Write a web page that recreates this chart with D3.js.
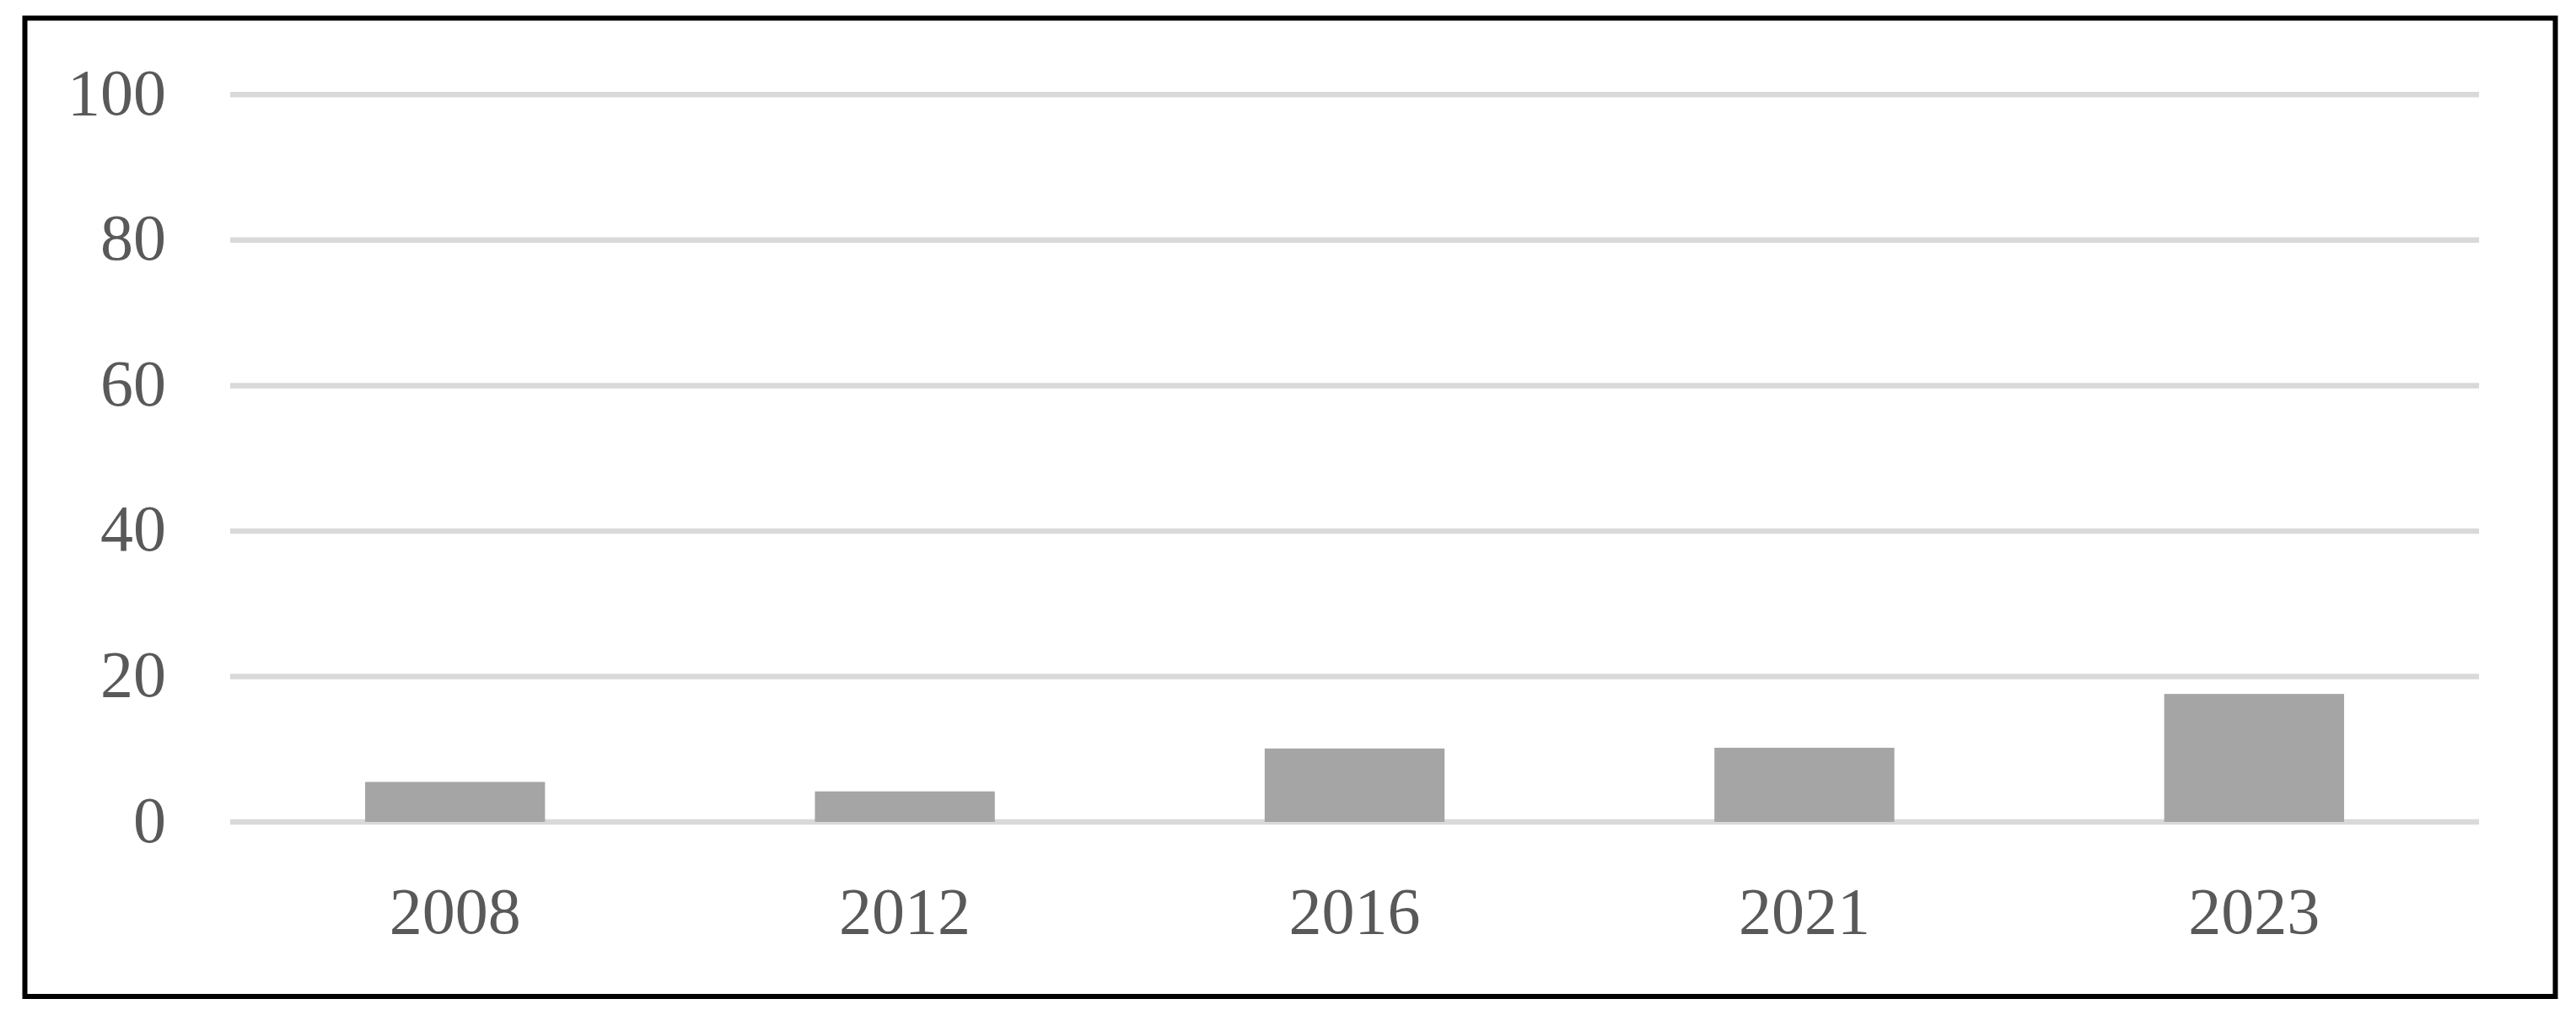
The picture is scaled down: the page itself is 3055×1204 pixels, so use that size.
<!DOCTYPE html>
<html>
<head>
<meta charset="utf-8">
<script src="https://cdn.jsdelivr.net/npm/d3@7/dist/d3.min.js"></script>
<style>
html,body{margin:0;padding:0;background:#fff;}
svg{display:block;}
</style>
</head>
<body>
<svg id="chart" width="3055" height="1204"></svg>
<script>
const categories = ["2008", "2012", "2016", "2021", "2023"];
const values = [5.5, 4.2, 10.1, 10.2, 17.6];
const yTicks = [0, 20, 40, 60, 80, 100];

const svg = d3.select("#chart");
const W = 3055, H = 1204;
const plot = {left: 273, right: 2940, top: 112.3, bottom: 975};

svg.append("rect").attr("width", W).attr("height", H).attr("fill", "#fff");

const x = d3.scaleBand().domain(categories).range([plot.left, plot.right])
  .paddingInner(0.6).paddingOuter(0.3);
const y = d3.scaleLinear().domain([0, 100]).range([plot.bottom, plot.top]);

const font = "'Liberation Serif', 'DejaVu Serif', serif";

// gridlines
svg.append("g").selectAll("line").data(yTicks).join("line")
  .attr("x1", plot.left).attr("x2", plot.right)
  .attr("y1", d => y(d)).attr("y2", d => y(d))
  .attr("stroke", "#d9d9d9").attr("stroke-width", 6.5);

// y axis labels
const yAxis = d3.axisLeft(y).tickValues(yTicks).tickSize(0).tickPadding(0).tickFormat(d3.format("d"));
const gy = svg.append("g").attr("transform", `translate(197,0)`).call(yAxis);
gy.select(".domain").remove();
gy.selectAll("text").attr("font-family", font).attr("font-size", 78)
  .attr("fill", "#595959").attr("dy", null).attr("dominant-baseline", "auto")
  .attr("y", 23).attr("x", 0);

// bars
svg.append("g").selectAll("rect").data(categories).join("rect")
  .attr("x", d => x(d)).attr("width", x.bandwidth())
  .attr("y", (d, i) => y(values[i])).attr("height", (d, i) => y(0) - y(values[i]))
  .attr("fill", "#a5a5a5");

// x axis labels
const xAxis = d3.axisBottom(x).tickSize(0).tickPadding(0);
const gx = svg.append("g").attr("transform", `translate(0,${plot.bottom})`).call(xAxis);
gx.select(".domain").remove();
gx.selectAll("text").attr("font-family", font).attr("font-size", 78)
  .attr("fill", "#595959").attr("dy", null).attr("y", 132);

// border
svg.append("rect").attr("x", 29.5).attr("y", 21.5).attr("width", 3001).attr("height", 1160.5)
  .attr("fill", "none").attr("stroke", "#000").attr("stroke-width", 6);
</script>
</body>
</html>
